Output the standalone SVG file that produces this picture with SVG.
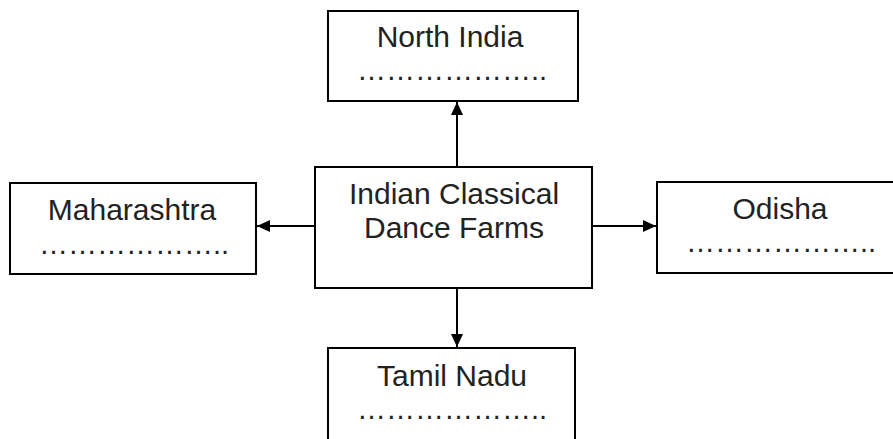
<svg xmlns="http://www.w3.org/2000/svg" width="893" height="439" viewBox="0 0 893 439">
<style>
.box{fill:#fff;stroke:#000;stroke-width:2}
.t{font-family:"Liberation Sans",Arial,sans-serif;font-size:30px;fill:#222;text-anchor:middle}
.d{font-family:"Liberation Sans",Arial,sans-serif;font-size:29px;fill:#222;text-anchor:middle}
.c{stroke:#000;stroke-width:2;fill:none}
</style>
<defs>
<marker id="ah" markerWidth="13" markerHeight="12" refX="13" refY="6" orient="auto" markerUnits="userSpaceOnUse">
<path d="M0,0 L13,6 L0,12 Z" fill="#000"/>
</marker>
</defs>
<rect width="893" height="439" fill="#fff"/>
<g id="connectors">
<line class="c" x1="457" y1="167" x2="457" y2="102" marker-end="url(#ah)"/>
<line class="c" x1="315" y1="226" x2="257" y2="226" marker-end="url(#ah)"/>
<line class="c" x1="592" y1="226" x2="656" y2="226" marker-end="url(#ah)"/>
<line class="c" x1="457" y1="288" x2="457" y2="347" marker-end="url(#ah)"/>
</g>
<g id="center">
<rect class="box" x="315" y="167" width="277" height="121"/>
<text class="t" x="454" y="204">Indian Classical</text>
<text class="t" x="454" y="238">Dance Farms</text>
</g>
<g id="north">
<rect class="box" x="328" y="11" width="250" height="90"/>
<text class="t" x="450" y="47">North India</text>
<text class="d" x="452" y="80">………………..</text>
</g>
<g id="maharashtra">
<rect class="box" x="10" y="183" width="246" height="91"/>
<text class="t" x="132" y="220">Maharashtra</text>
<text class="d" x="134" y="254">………………..</text>
</g>
<g id="odisha">
<rect class="box" x="657" y="182" width="250" height="91"/>
<text class="t" x="780" y="219">Odisha</text>
<text class="d" x="781" y="252">………………..</text>
</g>
<g id="tamilnadu">
<rect class="box" x="328" y="348" width="247" height="110"/>
<text class="t" x="452" y="386">Tamil Nadu</text>
<text class="d" x="452" y="419">………………..</text>
</g>
</svg>
